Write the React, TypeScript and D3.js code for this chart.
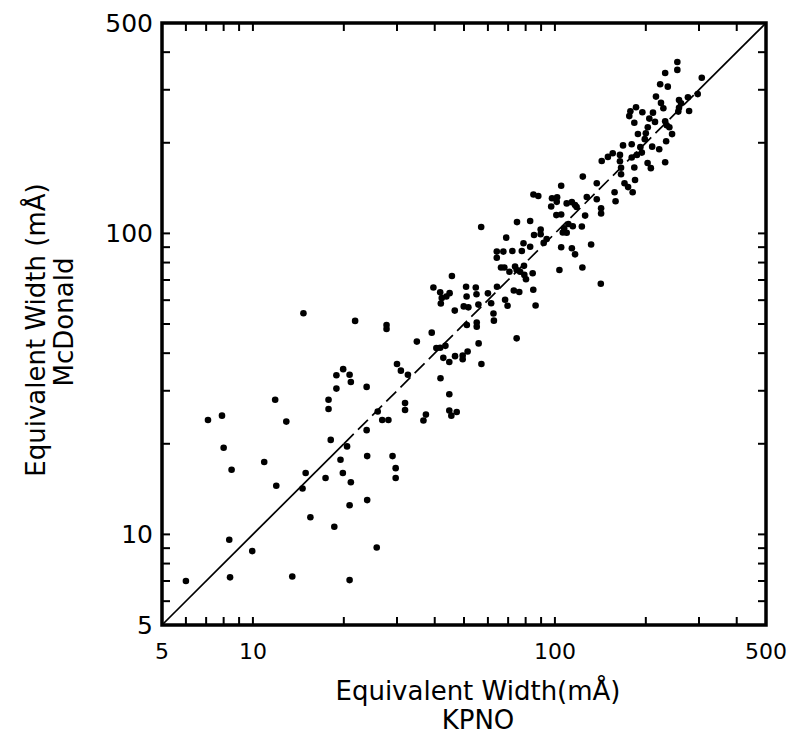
import React, { useEffect, useRef } from 'react';
import * as d3 from 'd3';

// KPNO equivalent widths (mÅ), x values
const kpno: number[] = [
  6.0, 7.1, 7.9, 8.0, 8.5, 8.35, 8.4, 9.95, 10.9, 11.85, 11.95, 12.9, 13.5, 14.7, 14.95, 14.6, 15.5, 17.4, 17.8, 17.8,
  18.1, 18.6, 18.9, 18.9, 19.5, 19.9, 19.85, 20.5, 20.9, 21.1, 21.1, 20.9, 20.9, 21.8, 23.8, 23.8, 23.9, 23.9, 25.7, 25.9,
  26.8, 28.1, 27.7, 27.7, 29.0, 29.7, 29.7, 30.0, 30.9, 31.9, 31.9, 32.6, 34.9, 36.7, 37.4, 39.1, 39.6, 40.5, 41.7, 43.4,
  42.7, 41.8, 44.7, 44.7, 45.4, 47.3, 44.7, 46.7, 41.7, 42.2, 41.9, 43.7, 44.8, 46.6, 45.6, 49.5, 49.5, 51.4, 51.1, 55.1,
  55.1, 55.9, 57.1, 49.9, 51.7, 51.0, 50.8, 54.7, 55.0, 55.8, 57.0, 60.0, 61.5, 62.6, 62.8, 64.3, 68.4, 69.7, 73.1, 76.2,
  84.8, 86.3, 74.7, 64.2, 67.5, 72.3, 77.7, 64.2, 66.3, 68.0, 70.7, 73.8, 74.7, 76.7, 79.0, 79.2, 80.2, 84.4, 69.0, 74.9,
  82.8, 78.7, 82.8, 85.3, 89.7, 89.7, 93.9, 91.8, 103.5, 104.9, 113.8, 116.6, 123.3, 131.8, 141.9, 84.9, 88.1, 97.8, 101.7, 101.4,
  97.2, 109.4, 113.8, 116.6, 118.0, 101.1, 104.9, 110.8, 114.6, 107.3, 106.2, 109.4, 122.8, 125.9, 127.5, 137.6, 142.2, 142.2, 104.9, 123.7,
  137.6, 142.9, 149.8, 155.4, 164.2, 164.2, 165.6, 165.6, 157.6, 158.8, 170, 174.7, 180.9, 184.2, 183.2, 179.6, 186.9, 194, 168.1, 179.6,
  191.8, 202.7, 207.8, 209.9, 221.5, 231.8, 188.3, 200, 198.4, 233.5, 244.3, 203, 177.8, 176.3, 183.2, 185.6, 194.8, 211.2, 205.4, 214.5,
  231.8, 234.5, 239.3, 224.5, 228.6, 216.1, 223.1, 236.5, 231.8, 254.3, 254.3, 257.6, 261.6, 257.6, 256.2, 275.7, 278.2, 297.1, 306.4,
];

// McDonald equivalent widths (mÅ), y values
const mcdonald: number[] = [
  7.0, 24, 24.8, 19.4, 16.4, 9.6, 7.2, 8.8, 17.4, 28, 14.5, 23.7, 7.25, 54.3, 16, 14.2, 11.4, 15.4, 28, 26.1,
  20.6, 10.6, 30.5, 33.8, 17.7, 35.4, 16.0, 19.6, 33.9, 32.1, 14.9, 12.5, 7.05, 51.2, 30.9, 22.2, 18.2, 13.0, 9.05, 25.6,
  24.0, 24.0, 49.6, 48.1, 18.2, 16.6, 15.4, 36.8, 35.0, 27.3, 25.9, 33.9, 43.7, 23.9, 25.0, 46.8, 66.1, 41.6, 41.7, 42.3,
  38.6, 33.0, 29.2, 25.8, 24.8, 25.5, 37.4, 39.1, 63.7, 61, 58.5, 61.7, 63.3, 55.4, 72.2, 38.2, 39.3, 40.5, 49.6, 50.6,
  49.0, 43.1, 36.8, 57.2, 56.8, 61.7, 66.5, 66.1, 62.8, 58.0, 105, 63.2, 58.6, 54.2, 51.3, 66.5, 60.2, 57.5, 64.6, 63.9,
  65.0, 57.6, 44.8, 87, 87, 87.4, 87.4, 83, 77, 77, 74.6, 77.6, 75.6, 74.6, 78, 72.8, 70.4, 73.7, 96.8, 109,
  110, 92.7, 90.3, 98.8, 103, 99.4, 95.8, 93.0, 75.6, 89.9, 89.3, 85.2, 77, 91.8, 68.0, 134.7, 133.1, 130.8, 131.8, 127.3,
  122.8, 125.8, 127, 124.3, 122.3, 115, 115.5, 107.4, 105.6, 104, 100.7, 100.5, 105.4, 114.6, 132.1, 129.8, 121.2, 116.5, 144, 154.4,
  146.8, 174, 179.5, 184.6, 182.3, 173.6, 165.2, 157.2, 137, 127.9, 146.8, 142.5, 137, 150.4, 165.6, 178.8, 182.3, 185.5, 196, 197.8,
  193.4, 171.3, 164.7, 194.2, 190.3, 172.4, 214, 215, 205.6, 202.4, 213.7, 225.3, 254.7, 245.3, 233.1, 262.4, 252.7, 251.8, 240.6, 234.6,
  235.8, 228.6, 225.3, 271.3, 260.4, 284.7, 313, 307.3, 341, 371, 349.3, 277.3, 270.3, 261.6, 253.9, 283.3, 255, 290.2, 329,
];

const domain: [number, number] = [5, 500];
const minorTicks: number[] = [6, 7, 8, 9, 10, 20, 30, 40, 50, 60, 70, 80, 90, 100, 200, 300, 400];
const tickLabels: number[] = [5, 10, 100, 500];
const dashedSpan: [number, number] = [20, 290];

const xTitle = ['Equivalent Width(mÅ)', 'KPNO'];
const yTitle = ['Equivalent Width (mÅ)', 'McDonald'];

const FONT = "'DejaVu Sans', sans-serif";

export default function App() {
  const ref = useRef<SVGSVGElement>(null);

  useEffect(() => {
    const svg = d3.select(ref.current);
    svg.selectAll('*').remove();

    const x = d3.scaleLog().domain(domain).range([162, 766]);
    const y = d3.scaleLog().domain(domain).range([625, 23]);
    const [x0, x1] = x.range();
    const [y0, y1] = y.range();

    // identity line
    const g = svg.append('g');
    const seg = (a: number, b: number, dash?: string) => {
      const l = g.append('line')
        .attr('x1', x(a)).attr('y1', y(a))
        .attr('x2', x(b)).attr('y2', y(b))
        .attr('stroke', '#000').attr('stroke-width', 1.7);
      if (dash) l.attr('stroke-dasharray', dash);
    };
    seg(domain[0], dashedSpan[0]);
    seg(dashedSpan[0], dashedSpan[1], '14,6');
    seg(dashedSpan[1], domain[1]);

    // points
    const data = kpno.map((k, i) => ({ k, m: mcdonald[i] }));
    svg.append('g')
      .selectAll('circle')
      .data(data)
      .join('circle')
      .attr('cx', d => x(d.k))
      .attr('cy', d => y(d.m))
      .attr('r', 3.3)
      .attr('fill', '#000');

    // ticks (inward, all four sides)
    const tl = 8;
    const tg = svg.append('g').attr('stroke', '#000').attr('stroke-width', 2);
    minorTicks.forEach(t => {
      tg.append('line').attr('x1', x(t)).attr('x2', x(t)).attr('y1', y0).attr('y2', y0 - tl);
      tg.append('line').attr('x1', x(t)).attr('x2', x(t)).attr('y1', y1).attr('y2', y1 + tl);
      tg.append('line').attr('y1', y(t)).attr('y2', y(t)).attr('x1', x0).attr('x2', x0 + tl);
      tg.append('line').attr('y1', y(t)).attr('y2', y(t)).attr('x1', x1).attr('x2', x1 - tl);
    });

    // frame
    svg.append('rect')
      .attr('x', x0).attr('y', y1)
      .attr('width', x1 - x0).attr('height', y0 - y1)
      .attr('fill', 'none').attr('stroke', '#000').attr('stroke-width', 3.5);

    // tick labels
    svg.append('g').selectAll('text')
      .data(tickLabels)
      .join('text')
      .attr('x', d => x(d))
      .attr('y', 659)
      .attr('text-anchor', 'middle')
      .attr('font-family', FONT)
      .attr('font-size', 22)
      .text(d => String(d));

    svg.append('g').selectAll('text')
      .data(tickLabels)
      .join('text')
      .attr('x', 153)
      .attr('y', d => y(d) + 9)
      .attr('text-anchor', 'end')
      .attr('font-family', FONT)
      .attr('font-size', 25)
      .text(d => String(d));

    // axis titles
    svg.append('text').attr('x', 478).attr('y', 700).attr('text-anchor', 'middle')
      .attr('font-family', FONT).attr('font-size', 26).text(xTitle[0]);
    svg.append('text').attr('x', 478).attr('y', 729).attr('text-anchor', 'middle')
      .attr('font-family', FONT).attr('font-size', 26).text(xTitle[1]);

    svg.append('text').attr('transform', 'translate(45,330) rotate(-90)').attr('text-anchor', 'middle')
      .attr('font-family', FONT).attr('font-size', 26).text(yTitle[0]);
    svg.append('text').attr('transform', 'translate(73,322) rotate(-90)').attr('text-anchor', 'middle')
      .attr('font-family', FONT).attr('font-size', 26).text(yTitle[1]);
  }, []);

  return (
    <svg
      ref={ref}
      width={799}
      height={736}
      style={{ position: 'absolute', left: 0, top: 0, background: '#fff' }}
    />
  );
}
